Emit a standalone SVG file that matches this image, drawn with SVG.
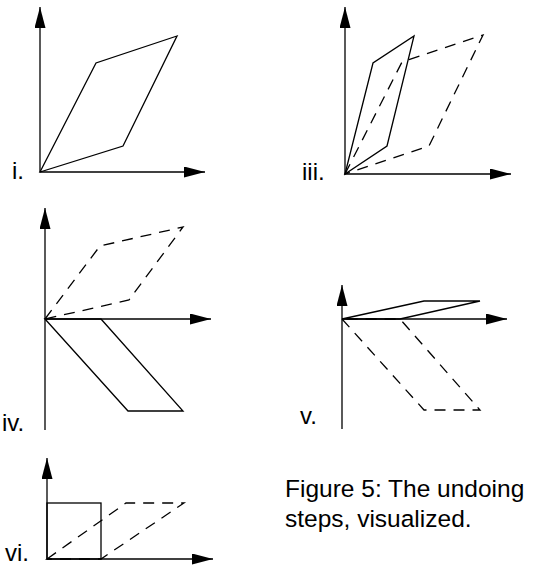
<svg xmlns="http://www.w3.org/2000/svg" width="533" height="566" viewBox="0 0 533 566">
<defs>
<style>
.ax{stroke:#000;stroke-width:1.3;fill:none}
.s{stroke:#000;stroke-width:1.3;fill:none;stroke-linejoin:miter}
.d{stroke:#000;stroke-width:1.3;fill:none;stroke-dasharray:11 8}
.lbl{font-family:"Liberation Sans",Arial,sans-serif;font-size:24px;fill:#000}
.cap{font-family:"Liberation Sans",Arial,sans-serif;font-size:24.5px;fill:#000}
</style>
<marker id="ah" viewBox="0 0 21 11" refX="21" refY="5.5" markerWidth="21" markerHeight="11" markerUnits="userSpaceOnUse" orient="auto">
<path d="M0,0 L21,5.5 L0,11 Z" fill="#000"/>
</marker>
</defs>
<rect width="533" height="566" fill="#fff"/>
<g id="panel-i">
<g class="connectors">
<line class="ax" x1="40" y1="172" x2="40" y2="7" marker-end="url(#ah)"/>
<line class="ax" x1="40" y1="172" x2="205" y2="172" marker-end="url(#ah)"/>
</g>
<polygon class="s" points="40,172 96,63 177,36 123,146"/>
<text class="lbl" x="12" y="179">i.</text>
</g>
<g id="panel-iii">
<g class="connectors">
<line class="ax" x1="345" y1="174" x2="345" y2="7" marker-end="url(#ah)"/>
<line class="ax" x1="345" y1="174" x2="511" y2="174" marker-end="url(#ah)"/>
</g>
<polygon class="d" points="345,174 402,62 483,35 429,146"/>
<polygon class="s" points="345,174 373,63 414,36 387,146"/>
<text class="lbl" x="302" y="180">iii.</text>
</g>
<g id="panel-iv">
<g class="connectors">
<line class="ax" x1="45" y1="430" x2="45" y2="208" marker-end="url(#ah)"/>
<line class="ax" x1="45" y1="319" x2="211" y2="319" marker-end="url(#ah)"/>
</g>
<polygon class="d" points="45,319 100,246 183,227 129,300"/>
<polygon class="s" points="45,319 128,411 183,411 101,319"/>
<text class="lbl" x="2" y="431">iv.</text>
</g>
<g id="panel-v">
<g class="connectors">
<line class="ax" x1="342" y1="429" x2="342" y2="285" marker-end="url(#ah)"/>
<line class="ax" x1="342" y1="319" x2="507" y2="319" marker-end="url(#ah)"/>
</g>
<polygon class="d" points="342,319 424,410 480,410 400,319"/>
<polygon class="s" points="342,319 424,301 480,301 400,319"/>
<text class="lbl" x="300" y="424">v.</text>
</g>
<g id="panel-vi">
<g class="connectors">
<line class="ax" x1="47" y1="559" x2="47" y2="458" marker-end="url(#ah)"/>
<line class="ax" x1="47" y1="559" x2="213" y2="559" marker-end="url(#ah)"/>
</g>
<polygon class="d" points="47,559 126,503 184,503 101,559"/>
<rect class="s" x="47" y="503" width="54" height="56"/>
<text class="lbl" x="5" y="561">vi.</text>
</g>
<g id="caption">
<text class="cap" x="285" y="497">Figure 5: The undoing</text>
<text class="cap" x="285" y="527">steps, visualized.</text>
</g>
</svg>
